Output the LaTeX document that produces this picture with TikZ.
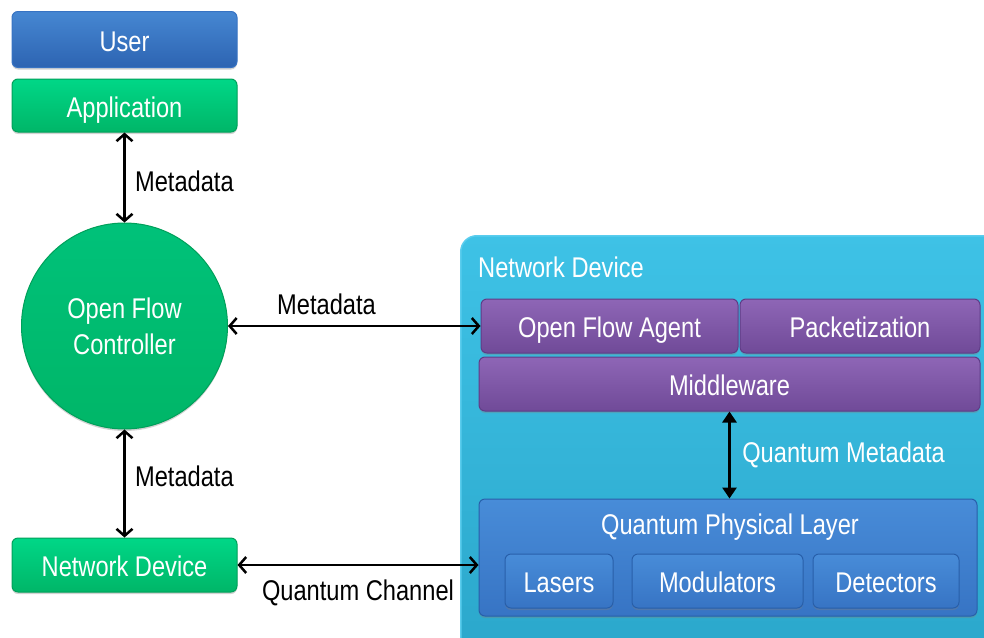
\documentclass[tikz,border=0pt]{standalone}
\usepackage{fontspec}
\setmainfont{Liberation Sans}[FakeStretch=0.83]
\usepackage{tikz}
\usetikzlibrary{arrows.meta, positioning, calc, shadows}
\definecolor{usertop}{RGB}{70,135,210}
\definecolor{userbot}{RGB}{45,100,178}
\definecolor{userline}{RGB}{55,115,195}
\definecolor{greentop}{RGB}{0,215,135}
\definecolor{greenbot}{RGB}{0,182,104}
\definecolor{greenline}{RGB}{0,160,90}
\definecolor{purptop}{RGB}{142,102,182}
\definecolor{purpbot}{RGB}{112,74,152}
\definecolor{purpline}{RGB}{95,60,135}
\definecolor{cyantop}{RGB}{62,194,230}
\definecolor{cyanbot}{RGB}{42,166,202}
\definecolor{cyanline}{RGB}{90,205,238}
\definecolor{qpltop}{RGB}{72,140,216}
\definecolor{qplbot}{RGB}{55,116,196}
\definecolor{qplline}{RGB}{40,95,170}

\begin{document}
\begin{tikzpicture}[x=1pt, y=-1pt,
    every node/.style={font=\fontsize{28.5}{32}\selectfont},
    box/.style={draw, line width=1pt, rounded corners=6pt, minimum height=54pt, inner sep=0pt, text=white,
        text height=27pt, text depth=4pt,
        drop shadow={shadow xshift=0pt, shadow yshift=-2pt, opacity=0.35}},
    greenbox/.style={box, draw=greenline, top color=greentop, bottom color=greenbot},
    purpbox/.style={box, draw=purpline, top color=purptop, bottom color=purpbot},
    qplbox/.style={box, draw=qplline, top color=qpltop, bottom color=qplbot},
    meta/.style={{Straight Barb[length=7pt,width=16pt,line width=2.5pt]}-{Straight Barb[length=7pt,width=16pt,line width=2.5pt]}, line width=2.5pt},
    qmeta/.style={{Triangle[length=11pt,width=14pt]}-{Triangle[length=11pt,width=14pt]}, line width=3pt}]
    \useasboundingbox (0,0) rectangle (984,637);
    \clip (0,0) rectangle (984,637);

    % User and application
    \node[box, draw=userline, top color=usertop, bottom color=userbot, minimum width=225pt, minimum height=56pt] (user) at (124.5,39.5) {User};
    \node[greenbox, minimum width=225pt, minimum height=53pt] (app) at (124.5,105.5) {Application};

    % Open Flow controller
    \node[circle, draw=greenline, line width=1pt, top color=greentop!90!black, bottom color=greenbot, text=white,
          minimum size=206pt, inner sep=0pt, align=center, font=\fontsize{28.5}{36}\selectfont,
          drop shadow={shadow xshift=0pt, shadow yshift=-2pt, opacity=0.35}] (ctrl) at (124.5,326) {Open Flow\\Controller};

    % Classical network device
    \node[greenbox, minimum width=225pt] (nd) at (124.5,565) {Network Device};

    % Quantum network device (container)
    \node[draw=cyanline, line width=1.5pt, rounded corners=16pt, top color=cyantop, bottom color=cyanbot,
          minimum width=560pt, minimum height=440pt, anchor=north west] (qnd) at (460,235) {};
    \node[anchor=west, text=white, inner sep=0pt] (qndlabel) at (478,267) {Network Device};

    \node[purpbox, minimum width=257pt] (ofa) at (609.5,326) {Open Flow Agent};
    \node[purpbox, minimum width=240pt] (pkt) at (860,326) {Packetization};
    \node[purpbox, minimum width=501pt] (mw) at (729.5,384) {Middleware};

    % Quantum physical layer
    \node[qplbox, minimum width=498pt, minimum height=117pt] (qpl) at (728,557.5) {};
    \node[text=white, inner sep=0pt] (qpllabel) at (730,527) {Quantum Physical Layer};
    \node[qplbox, minimum width=108pt] (las) at (559,581) {Lasers};
    \node[qplbox, minimum width=171pt] (mod) at (717.5,581) {Modulators};
    \node[qplbox, minimum width=146pt] (det) at (886,581) {Detectors};

    % Metadata links
    \draw[meta] (app.south) -- (ctrl.north) node[pos=0.54, right, xshift=6pt] {Metadata};
    \draw[meta] (ctrl.south) -- (nd.north) node[pos=0.43, right, xshift=6pt] {Metadata};
    \draw[meta] (ctrl.east) -- (ofa.west) node[pos=0.39, above, yshift=7pt] {Metadata};

    % Quantum channel
    \draw[meta] (nd.east) -- (nd.east -| qpl.west) node[midway, below, yshift=-10pt] {Quantum Channel};

    % Quantum metadata
    \draw[qmeta] (mw.south) -- (mw.south |- qpl.north) node[midway, right, xshift=8pt, text=white] {Quantum Metadata};
\end{tikzpicture}
\end{document}
